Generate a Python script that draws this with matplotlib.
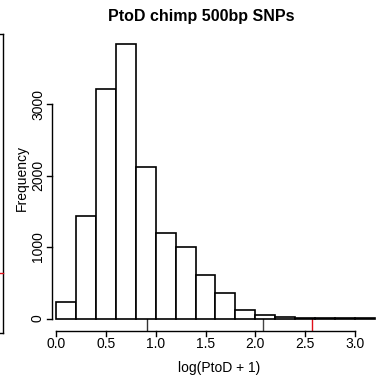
import matplotlib
matplotlib.use("Agg")
import matplotlib.pyplot as plt
from matplotlib.lines import Line2D
import numpy as np

plt.rcParams['font.family'] = ['Liberation Sans', 'DejaVu Sans']

# Data
bin_edges = [0.0, 0.2, 0.4, 0.6, 0.8, 1.0, 1.2, 1.4, 1.6, 1.8, 2.0, 2.2, 2.4, 2.6, 2.8, 3.0, 3.2]
counts = [235, 1430, 3205, 3839, 2123, 1200, 996, 613, 352, 115, 49, 15, 10, 6, 4, 3]
x_ticks = [0.0, 0.5, 1.0, 1.5, 2.0, 2.5, 3.0]
x_tick_labels = ["0.0", "0.5", "1.0", "1.5", "2.0", "2.5", "3.0"]
y_ticks = [0, 1000, 2000, 3000]
y_tick_labels = ["0", "1000", "2000", "3000"]
marker_x = [0.916, 2.073, 2.565]
marker_colors = ["#333333", "#444444", "#e0101a"]

W = H = 381
fig = plt.figure(figsize=(W / 100, H / 100), dpi=100)

def fx(px):
    return px / W

def fy(py):
    return 1 - py / H

# axes region in pixels
left_px, right_px, top_px, bot_px = 52, 381, 33, 330
ax = fig.add_axes([fx(left_px), fy(bot_px), fx(right_px - left_px), (bot_px - top_px) / H])
px_per_unit = 99.67
x0_px = 56
ax.set_xlim((left_px - x0_px) / px_per_unit, (right_px - x0_px) / px_per_unit)
px_per_k = 71.5
y0_px = 318.5
ax.set_ylim(-(bot_px - y0_px) / px_per_k * 1000, (y0_px - top_px) / px_per_k * 1000)

edges = np.array(bin_edges)
ax.bar(edges[:-1], counts, width=np.diff(edges), align='edge',
       facecolor='white', edgecolor='black', linewidth=1.2, zorder=2)

ymin = ax.get_ylim()[0]
for mx, mc in zip(marker_x, marker_colors):
    ax.plot([mx, mx], [ymin, 0], color=mc, linewidth=1.0, zorder=1, clip_on=False)

for s in ax.spines.values():
    s.set_visible(False)
ax.set_xticks([])
ax.set_yticks([])

fs = 10

# y axis (R style)
ax.plot([(left_px - x0_px) / px_per_unit] * 2, [y_ticks[0], y_ticks[-1]],
        color='black', linewidth=1.0, clip_on=False)
for yt, yl in zip(y_ticks, y_tick_labels):
    yp = y0_px - yt / 1000 * px_per_k
    fig.add_artist(Line2D([fx(47), fx(52)], [fy(yp), fy(yp)], color='black', linewidth=1.0))
    fig.text(fx(38), fy(yp), yl, rotation=90, ha='center', va='center', fontsize=fs)

# x axis (R style)
ax_y_px = 331
fig.add_artist(Line2D([fx(x0_px + x_ticks[0] * px_per_unit), fx(x0_px + x_ticks[-1] * px_per_unit)],
                      [fy(ax_y_px), fy(ax_y_px)], color='black', linewidth=1.0))
for xt, xl in zip(x_ticks, x_tick_labels):
    xp = x0_px + xt * px_per_unit
    fig.add_artist(Line2D([fx(xp), fx(xp)], [fy(ax_y_px), fy(ax_y_px + 5)], color='black', linewidth=1.0))
    fig.text(fx(xp), fy(344), xl, ha='center', va='center', fontsize=fs)

fig.text(fx(219), fy(368), "log(PtoD + 1)", ha='center', va='center', fontsize=fs)
fig.text(fx(22), fy(178), "Frequency", rotation=90, ha='center', va='center', fontsize=fs)
fig.text(fx(201), fy(17), "PtoD chimp 500bp SNPs", ha='center', va='center',
         fontsize=11.5, fontweight='bold')

# neighbouring panel edge
fig.add_artist(Line2D([fx(2.7), fx(2.7)], [fy(34), fy(333)], color='black', linewidth=1.0))
fig.add_artist(Line2D([fx(0), fx(2.7)], [fy(34), fy(34)], color='black', linewidth=1.0))
fig.add_artist(Line2D([fx(0), fx(2.7)], [fy(333), fy(333)], color='black', linewidth=1.0))
fig.add_artist(Line2D([fx(0), fx(2.7)], [fy(273), fy(273)], color='#e0101a', linewidth=1.0))

fig.savefig("out.png", dpi=100)
